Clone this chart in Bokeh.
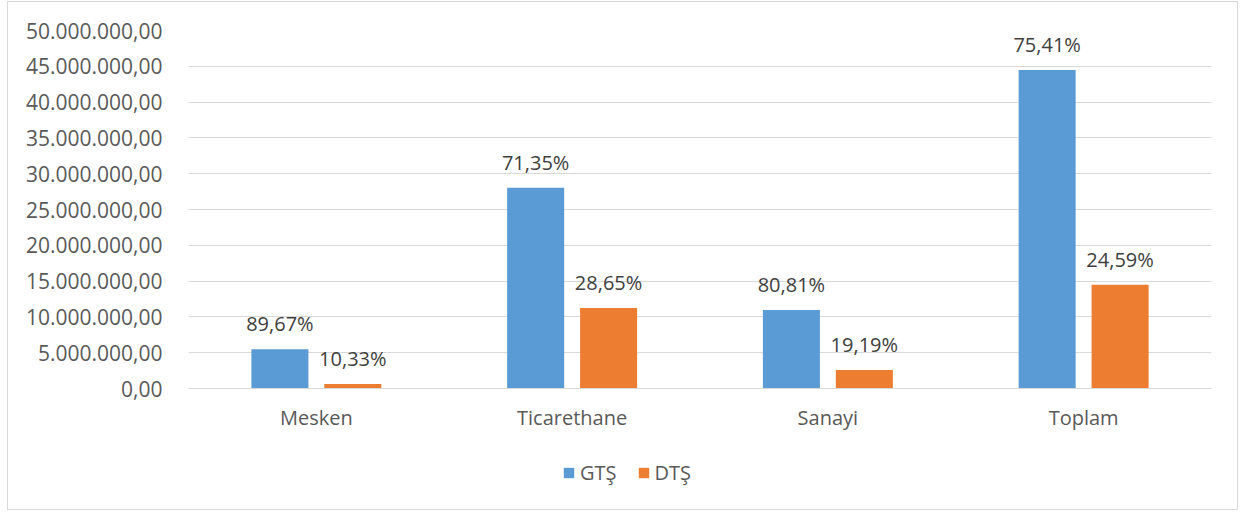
from bokeh.plotting import figure
from bokeh.models import (ColumnDataSource, FactorRange, Range1d, FixedTicker,
                          LabelSet, Legend, LegendItem)
from bokeh.core.properties import value
from bokeh.transform import dodge
from bokeh.embed import file_html
from bokeh.resources import INLINE

# ---- data ----
categories = ["Mesken", "Ticarethane", "Sanayi", "Toplam"]
gts_values = [5480000, 28050000, 10950000, 44480000]
dts_values = [630000, 11260000, 2600000, 14490000]
gts_pct = [89.67, 71.35, 80.81, 75.41]
dts_pct = [10.33, 28.65, 19.19, 24.59]
y_ticks = [0, 5000000, 10000000, 15000000, 20000000, 25000000,
           30000000, 35000000, 40000000, 45000000, 50000000]
y_tick_labels = ["0,00", "5.000.000,00", "10.000.000,00", "15.000.000,00",
                 "20.000.000,00", "25.000.000,00", "30.000.000,00",
                 "35.000.000,00", "40.000.000,00", "45.000.000,00",
                 "50.000.000,00"]
series_names = ["GTŞ", "DTŞ"]
y_max = 50000000


def fmt_pct(v):
    return f"{v:.2f}".replace(".", ",") + "%"


source = ColumnDataSource(data=dict(
    cat=categories,
    gts=gts_values,
    dts=dts_values,
    gts_lbl=[fmt_pct(v) for v in gts_pct],
    dts_lbl=[fmt_pct(v) for v in dts_pct],
))

FONT = "Open Sans"
BLUE = "#5B9BD5"
ORANGE = "#ED7D31"
AXIS_TXT = "#595959"
LBL_TXT = "#404040"
GRID = "#d9d9d9"

OFF = 0.1426
BW = 0.223

# layout (pixels): value area is 358 px tall, frame extends 112 px below zero
PLOT_PX = 358
BELOW_PX = 112
y_start = -y_max * BELOW_PX / PLOT_PX

p = figure(x_range=FactorRange(*categories, range_padding=0),
           y_range=Range1d(y_start, y_max),
           width=1231, height=509,
           min_border_left=180, min_border_right=28,
           min_border_top=28, min_border_bottom=11,
           output_backend="svg", toolbar_location=None)
p.styles = {"border": "1px solid #d9d9d9", "margin-left": "7px",
            "margin-top": "1px"}
p.outline_line_color = None
p.background_fill_color = "white"

r1 = p.vbar(x=dodge("cat", -OFF, range=p.x_range), top="gts", width=BW,
            source=source, color=BLUE, line_color=None)
r2 = p.vbar(x=dodge("cat", OFF, range=p.x_range), top="dts", width=BW,
            source=source, color=ORANGE, line_color=None)

for col, off in (("gts", -OFF), ("dts", OFF)):
    p.add_layout(LabelSet(x=dodge("cat", off, range=p.x_range), y=col,
                          text=col + "_lbl", source=source,
                          text_align="center", text_baseline="alphabetic",
                          y_offset=18, text_font=value(FONT),
                          text_font_size=value("20px"),
                          text_color=LBL_TXT))

# grid
p.xgrid.grid_line_color = None
p.ygrid.ticker = FixedTicker(ticks=y_ticks)
p.ygrid.grid_line_color = GRID
p.ygrid.grid_line_width = 1

# y axis
p.yaxis.ticker = FixedTicker(ticks=y_ticks)
p.yaxis.major_label_overrides = {t: l for t, l in zip(y_ticks, y_tick_labels)}
p.yaxis.axis_line_color = None
p.yaxis.major_tick_line_color = None
p.yaxis.minor_tick_line_color = None
p.yaxis.major_label_standoff = 20
p.yaxis.major_label_text_font = FONT
p.yaxis.major_label_text_font_size = "21px"
p.yaxis.major_label_text_color = AXIS_TXT

# x axis, drawn at value zero
p.xaxis.fixed_location = 0
p.xaxis.axis_line_color = GRID
p.xaxis.major_tick_line_color = None
p.xaxis.minor_tick_line_color = None
p.xaxis.major_label_standoff = 9
p.xaxis.major_label_text_font = FONT
p.xaxis.major_label_text_font_size = "20px"
p.xaxis.major_label_text_color = AXIS_TXT

legend = Legend(items=[LegendItem(label=series_names[0], renderers=[r1]),
                       LegendItem(label=series_names[1], renderers=[r2])],
                orientation="horizontal", location=(374, 14),
                glyph_width=13, glyph_height=13, label_standoff=5, spacing=20,
                padding=0, margin=0, border_line_color=None,
                background_fill_alpha=0,
                label_text_font=FONT, label_text_font_size="20px",
                label_text_color=AXIS_TXT)
p.add_layout(legend, "center")

open("out.html", "w").write(file_html(p, INLINE))
